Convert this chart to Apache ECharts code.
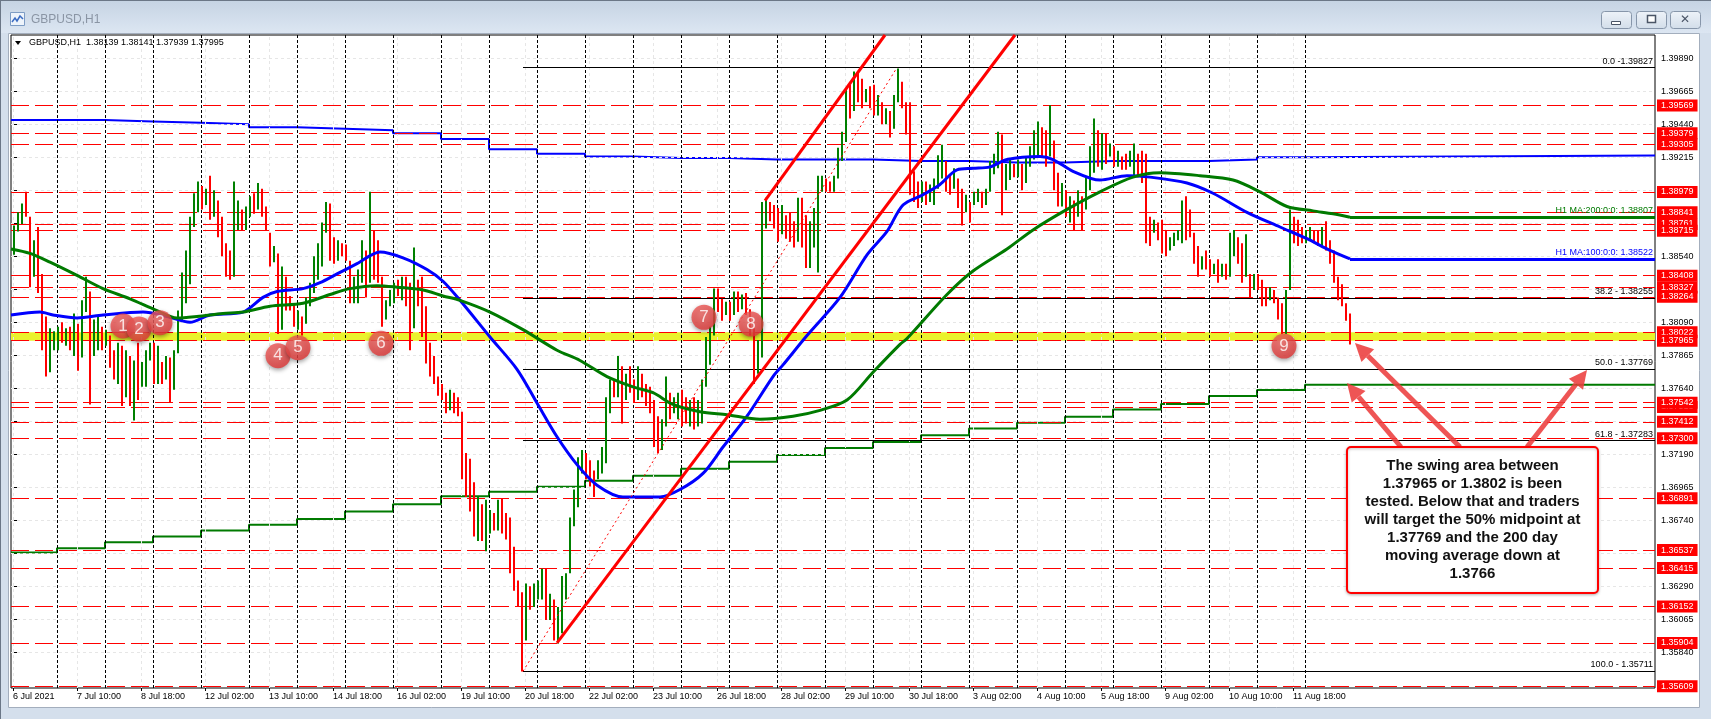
<!DOCTYPE html>
<html><head><meta charset="utf-8">
<script src="https://cdn.jsdelivr.net/npm/echarts@6/dist/echarts.min.js"></script>
<style>html,body{margin:0;padding:0;background:#d4dfec;}#c{width:1711px;height:719px;}</style>
</head><body><div id="c"></div>
<script>
// ---------------- DATA ----------------
const timeLabels = ['6 Jul 2021','7 Jul 10:00','8 Jul 18:00','12 Jul 02:00','13 Jul 10:00','14 Jul 18:00','16 Jul 02:00','19 Jul 10:00','20 Jul 18:00','22 Jul 02:00','23 Jul 10:00','26 Jul 18:00','28 Jul 02:00','29 Jul 10:00','30 Jul 18:00','3 Aug 02:00','4 Aug 10:00','5 Aug 18:00','9 Aug 02:00','10 Aug 10:00','11 Aug 18:00'];
const timeLabelBars = [0,32,64,96,128,160,192,224,256,288,320,352,384,416,448,480,512,544,576,608,640];
const dayStartBars = [0,22,46,70,94,118,142,166,190,214,238,262,286,310,334,358,382,406,430,454,478,502,526,550,574,598,622,646];
const priceTicks = [1.39890,1.39665,1.39440,1.39215,1.38990,1.38765,1.38540,1.38315,1.38090,1.37865,1.37640,1.37415,1.37190,1.36965,1.36740,1.36515,1.36290,1.36065,1.35840];

// 2-hour bars (bar k covers hours 2k, 2k+1), open of each bar = previous close
const firstOpen = 1.3862;
const closes = [
1.3872,1.3882,1.3888,1.3885,1.3845,1.3848,1.3835,1.3795,1.3790,1.3795,
1.3798,1.3800,1.3797,1.3801,1.3798,1.3805,1.3782,1.3820,1.3832,1.3790,
1.3800,1.3808,1.3798,1.3801,1.3785,1.3775,1.3780,1.3765,1.3775,1.3770,
1.3778,1.3768,1.3778,1.3786,1.3788,1.3775,1.3782,1.3772,1.3782,1.3770,
1.3788,1.3812,1.3838,1.3850,1.3876,1.3892,1.3895,1.3890,1.3895,1.3882,
1.3887,1.3870,1.3860,1.3848,1.3845,1.3880,1.3885,1.3878,1.3880,1.3893,
1.3890,1.3895,1.3885,1.3876,1.3852,1.3856,1.3820,1.3830,1.3825,1.3822,
1.3810,1.3812,1.3805,1.3822,1.3832,1.3850,1.3858,1.3872,1.3886,1.3860,
1.3856,1.3862,1.3858,1.3856,1.3830,1.3832,1.3840,1.3858,1.3840,1.3852,
1.3845,1.3842,1.3815,1.3820,1.3826,1.3832,1.3830,1.3834,1.3825,1.3805,
1.3830,1.3826,1.3808,1.3790,1.3776,1.3772,1.3762,1.3760,1.3752,1.3756,
1.3750,1.3748,1.3712,1.3700,1.3690,1.3670,1.3680,1.3668,1.3675,1.3678,
1.3672,1.3685,1.3670,1.3665,1.3645,1.3632,1.3620,1.3595,1.3625,1.3618,
1.3625,1.3628,1.3635,1.3612,1.3615,1.3600,1.3608,1.3630,1.3635,1.3670,
1.3690,1.3710,1.3712,1.3708,1.3702,1.3695,1.3712,1.3720,1.3752,1.3765,
1.3762,1.3780,1.3750,1.3768,1.3765,1.3760,1.3775,1.3762,1.3758,1.3750,
1.3730,1.3728,1.3740,1.3765,1.3748,1.3752,1.3755,1.3750,1.3748,1.3752,
1.3745,1.3750,1.3765,1.3795,1.3800,1.3828,1.3822,1.3815,1.3820,1.3812,
1.3826,1.3820,1.3824,1.3818,1.3805,1.3785,1.3792,1.3880,1.3885,1.3882,
1.3878,1.3870,1.3882,1.3872,1.3868,1.3865,1.3885,1.3880,1.3855,1.3862,
1.3876,1.3898,1.3905,1.3902,1.3900,1.3906,1.3925,1.3935,1.3962,1.3955,
1.3972,1.3968,1.3960,1.3964,1.3958,1.3954,1.3956,1.3948,1.3950,1.3940,
1.3960,1.3975,1.3958,1.3940,1.3905,1.3898,1.3895,1.3900,1.3895,1.3898,
1.3902,1.3918,1.3925,1.3905,1.3902,1.3910,1.3892,1.3882,1.3890,1.3880,
1.3894,1.3896,1.3890,1.3896,1.3915,1.3920,1.3932,1.3895,1.3910,1.3915,
1.3912,1.3914,1.3905,1.3918,1.3925,1.3932,1.3935,1.3930,1.3925,1.3930,
1.3905,1.3893,1.3895,1.3890,1.3891,1.3885,1.3888,1.3880,1.3905,1.3925,
1.3935,1.3925,1.3930,1.3922,1.3926,1.3918,1.3922,1.3918,1.3916,1.3922,
1.3925,1.3914,1.3908,1.3872,1.3865,1.3875,1.3872,1.3860,1.3858,1.3862,
1.3866,1.3868,1.3885,1.3880,1.3870,1.3855,1.3846,1.3850,1.3848,1.3845,
1.3846,1.3840,1.3845,1.3842,1.3862,1.3865,1.3855,1.3842,1.3848,1.3832,
1.3838,1.3835,1.3826,1.3824,1.3828,1.3825,1.3815,1.3805,1.3828,1.3875,
1.3870,1.3868,1.3866,1.3868,1.3872,1.3868,1.3865,1.3870,1.3862,1.3852,
1.3840,1.3828,1.3824,1.3814,1.37995];
const highs = [
1.3875,1.3884,1.3890,1.3898,1.3881,1.3865,1.3874,1.3842,1.3813,1.3805,
1.3803,1.3806,1.3809,1.3805,1.3806,1.3815,1.3808,1.3824,1.3840,1.3830,
1.3811,1.3813,1.3806,1.3804,1.3800,1.3790,1.3795,1.3793,1.3790,1.3786,
1.3783,1.3795,1.3782,1.3790,1.3795,1.3795,1.3793,1.3782,1.3786,1.3785,
1.3790,1.3817,1.3843,1.3858,1.3881,1.3897,1.3905,1.3902,1.3900,1.3909,
1.3899,1.3892,1.3881,1.3863,1.3858,1.3905,1.3892,1.3886,1.3888,1.3895,
1.3897,1.3904,1.3900,1.3888,1.3870,1.3861,1.3856,1.3847,1.3840,1.3827,
1.3822,1.3817,1.3813,1.3826,1.3836,1.3854,1.3863,1.3877,1.3891,1.3890,
1.3867,1.3865,1.3863,1.3862,1.3851,1.3840,1.3845,1.3865,1.3858,1.3898,
1.3872,1.3865,1.3840,1.3824,1.3831,1.3836,1.3838,1.3840,1.3840,1.3836,
1.3860,1.3838,1.3840,1.3820,1.3795,1.3786,1.3772,1.3767,1.3761,1.3763,
1.3761,1.3758,1.3748,1.3720,1.3716,1.3700,1.3690,1.3685,1.3688,1.3681,
1.3679,1.3688,1.3689,1.3679,1.3676,1.3656,1.3633,1.3625,1.3631,1.3629,
1.3631,1.3633,1.3641,1.3641,1.3624,1.3620,1.3615,1.3636,1.3638,1.3676,
1.3695,1.3717,1.3722,1.3720,1.3715,1.3708,1.3715,1.3724,1.3758,1.3770,
1.3770,1.3786,1.3779,1.3774,1.3779,1.3770,1.3779,1.3774,1.3767,1.3765,
1.3756,1.3745,1.3743,1.3772,1.3761,1.3758,1.3761,1.3763,1.3758,1.3756,
1.3758,1.3756,1.3770,1.3799,1.3806,1.3832,1.3832,1.3825,1.3823,1.3823,
1.3830,1.3830,1.3828,1.3829,1.3818,1.3805,1.3797,1.3891,1.3894,1.3891,
1.3889,1.3887,1.3889,1.3882,1.3884,1.3878,1.3894,1.3894,1.3882,1.3878,
1.3887,1.3909,1.3909,1.3907,1.3905,1.3909,1.3928,1.3939,1.3968,1.3971,
1.3980,1.3980,1.3975,1.3968,1.3970,1.3971,1.3964,1.3959,1.3955,1.3953,
1.3964,1.3982,1.3973,1.3959,1.3959,1.3912,1.3905,1.3905,1.3905,1.3903,
1.3907,1.3923,1.3930,1.3919,1.3910,1.3914,1.3907,1.3900,1.3896,1.3891,
1.3898,1.3900,1.3898,1.3900,1.3919,1.3924,1.3939,1.3937,1.3917,1.3920,
1.3917,1.3920,1.3917,1.3922,1.3929,1.3940,1.3946,1.3942,1.3940,1.3957,
1.3933,1.3911,1.3904,1.3899,1.3895,1.3892,1.3899,1.3895,1.3908,1.3929,
1.3948,1.3940,1.3938,1.3938,1.3931,1.3929,1.3926,1.3922,1.3924,1.3926,
1.3931,1.3924,1.3926,1.3924,1.3881,1.3879,1.3877,1.3879,1.3872,1.3867,
1.3870,1.3872,1.3892,1.3895,1.3886,1.3870,1.3861,1.3854,1.3858,1.3852,
1.3849,1.3852,1.3849,1.3849,1.3870,1.3872,1.3867,1.3863,1.3869,1.3842,
1.3842,1.3842,1.3838,1.3833,1.3833,1.3831,1.3826,1.3822,1.3831,1.3886,
1.3881,1.3879,1.3874,1.3872,1.3874,1.3872,1.3872,1.3874,1.3878,1.3865,
1.3858,1.3840,1.3835,1.3822,1.3815];
const lows = [
1.3855,1.3871,1.3876,1.3881,1.3833,1.3840,1.3829,1.3790,1.3772,1.3775,
1.3790,1.3790,1.3795,1.3793,1.3790,1.3786,1.3776,1.3785,1.3816,1.3753,
1.3786,1.3790,1.3790,1.3793,1.3778,1.3770,1.3767,1.3752,1.3758,1.3752,
1.3742,1.3756,1.3765,1.3765,1.3783,1.3767,1.3767,1.3767,1.3770,1.3754,
1.3763,1.3788,1.3810,1.3822,1.3835,1.3874,1.3884,1.3886,1.3889,1.3879,
1.3881,1.3867,1.3854,1.3840,1.3838,1.3840,1.3872,1.3872,1.3872,1.3881,
1.3883,1.3886,1.3881,1.3872,1.3847,1.3850,1.3801,1.3804,1.3817,1.3817,
1.3806,1.3804,1.3800,1.3808,1.3820,1.3829,1.3838,1.3847,1.3870,1.3851,
1.3849,1.3851,1.3854,1.3851,1.3822,1.3822,1.3822,1.3836,1.3826,1.3836,
1.3838,1.3836,1.3806,1.3811,1.3820,1.3822,1.3827,1.3824,1.3820,1.3790,
1.3805,1.3820,1.3799,1.3781,1.3772,1.3767,1.3759,1.3756,1.3747,1.3749,
1.3747,1.3745,1.3702,1.3690,1.3680,1.3663,1.3660,1.3660,1.3653,1.3665,
1.3667,1.3667,1.3665,1.3661,1.3638,1.3626,1.3615,1.3571,1.3592,1.3613,
1.3615,1.3620,1.3620,1.3606,1.3606,1.3592,1.3590,1.3597,1.3620,1.3638,
1.3670,1.3683,1.3706,1.3702,1.3697,1.3690,1.3702,1.3706,1.3713,1.3747,
1.3758,1.3758,1.3740,1.3756,1.3761,1.3754,1.3756,1.3758,1.3752,1.3747,
1.3724,1.3720,1.3722,1.3738,1.3743,1.3747,1.3743,1.3738,1.3740,1.3738,
1.3736,1.3738,1.3740,1.3765,1.3780,1.3800,1.3816,1.3810,1.3814,1.3810,
1.3814,1.3816,1.3818,1.3814,1.3800,1.3767,1.3774,1.3785,1.3873,1.3878,
1.3873,1.3864,1.3869,1.3866,1.3864,1.3860,1.3864,1.3860,1.3846,1.3846,
1.3860,1.3843,1.3898,1.3898,1.3898,1.3898,1.3907,1.3919,1.3932,1.3948,
1.3953,1.3959,1.3955,1.3959,1.3955,1.3950,1.3950,1.3944,1.3944,1.3935,
1.3941,1.3959,1.3955,1.3937,1.3896,1.3891,1.3887,1.3891,1.3889,1.3891,
1.3889,1.3900,1.3907,1.3898,1.3896,1.3900,1.3887,1.3875,1.3884,1.3877,
1.3889,1.3891,1.3887,1.3889,1.3898,1.3910,1.3914,1.3882,1.3899,1.3906,
1.3908,1.3908,1.3899,1.3904,1.3915,1.3920,1.3922,1.3922,1.3915,1.3922,
1.3899,1.3888,1.3888,1.3881,1.3877,1.3872,1.3881,1.3872,1.3886,1.3899,
1.3911,1.3915,1.3913,1.3917,1.3922,1.3915,1.3915,1.3913,1.3913,1.3915,
1.3908,1.3908,1.3904,1.3863,1.3861,1.3870,1.3865,1.3856,1.3854,1.3858,
1.3861,1.3865,1.3863,1.3865,1.3867,1.3849,1.3840,1.3845,1.3845,1.3840,
1.3842,1.3836,1.3840,1.3838,1.3840,1.3854,1.3849,1.3836,1.3840,1.3826,
1.3831,1.3831,1.3820,1.3820,1.3824,1.3822,1.3811,1.3801,1.3801,1.3831,
1.3863,1.3861,1.3863,1.3863,1.3865,1.3863,1.3861,1.3861,1.3858,1.3849,
1.3836,1.3824,1.3820,1.3810,1.37939];

// hourly moving averages, sampled [bar, price]
const h1ma100 = [[-1,1.3814],[13.5,1.3816],[20,1.3814],[32,1.3812],[45,1.3814],[65,1.3816],[77,1.3813],[88.5,1.3809],[98.5,1.3814],[115,1.3816],[125,1.3826],[132,1.3830],[145,1.3832],[153.5,1.3836],[162,1.3842],[172,1.3849],[183.5,1.3857],[195,1.3853],[207,1.3845],[215,1.3837],[223.5,1.3824],[238.5,1.3799],[252,1.3777],[262,1.3754],[272,1.3731],[282,1.3712],[292,1.3698],[305,1.3690],[323.5,1.3690],[333.5,1.3695],[345,1.3706],[355,1.3724],[367,1.3745],[380,1.3772],[385,1.3780],[397,1.3800],[413.5,1.3826],[427,1.3855],[437,1.3871],[445,1.3889],[455,1.3896],[463.5,1.3903],[472,1.3913],[480,1.3914],[488.5,1.3915],[497,1.3920],[513.5,1.3922],[520,1.3920],[530,1.3912],[543.5,1.3906],[557,1.3909],[568.5,1.3908],[587,1.3904],[600,1.3897],[617,1.3884],[633.5,1.3874],[647,1.3866],[658.5,1.3858],[668.5,1.38522]];
const h1ma200 = [[-1,1.3859],[8.5,1.3856],[18.5,1.3850],[32,1.3841],[45,1.3832],[58.5,1.3825],[72,1.3817],[82,1.3812],[92,1.3813],[105,1.3815],[115,1.3816],[128.5,1.3820],[145,1.3822],[158.5,1.3828],[168.5,1.3832],[182,1.3834],[192,1.3833],[205,1.3831],[215,1.3827],[223.5,1.3824],[238.5,1.3816],[255,1.3804],[272,1.3790],[283.5,1.3783],[297,1.3772],[310,1.3765],[320,1.3761],[330,1.3753],[343.5,1.3748],[357,1.3746],[373.5,1.3743],[390,1.3745],[403.5,1.3749],[417,1.3756],[430,1.3775],[443.5,1.3794],[447,1.3798],[467,1.3828],[480,1.3844],[497,1.3859],[510,1.3872],[527,1.3886],[543.5,1.3898],[560,1.3908],[573.5,1.3911],[593.5,1.3909],[610,1.3906],[623.5,1.3898],[637,1.3888],[650,1.3885],[660,1.3883],[668.5,1.38807]];
// daily moving averages, one value per trading day
const d1ma100 = [1.3947,1.3947,1.3946,1.3945,1.3944,1.3942,1.3941,1.3940,1.3938,1.3934,1.3927,1.3924,1.3922,1.3921,1.3921,1.3920,1.3920,1.3920,1.3919,1.3919,1.3918,1.3918,1.3919,1.3919,1.3919,1.3920,1.39215,1.39228];
const d1ma200 = [1.3652,1.3655,1.3659,1.3663,1.3667,1.3671,1.3675,1.3680,1.3685,1.36905,1.36935,1.36969,1.37010,1.37044,1.37092,1.37139,1.37185,1.37233,1.37274,1.37320,1.37367,1.37406,1.37447,1.37496,1.37533,1.37587,1.37628,1.37665];
const maLabels = ['D1 MA:100:0:0: 1.39228','H1 MA:200:0:0: 1.38807','H1 MA:100:0:0: 1.38522','D1 MA:200:0:0: 1.37665'];

// horizontal levels (drawn in this order)
const levels = [1.39569,1.39379,1.39305,1.38979,1.38841,1.38761,1.38715,1.38408,1.38327,1.38264,1.38022,1.37965,1.37513,1.37542,1.37412,1.37300,1.36891,1.36537,1.36415,1.36152,1.35904,1.35609];
const bandLow = 1.37965, bandHigh = 1.38022;

// fibonacci retracement
const fibStartBar = 255;
const fibPrices = [1.39827,1.38255,1.37769,1.37283,1.35711];
const fibLabels = ['0.0 -1.39827','38.2 - 1.38255','50.0 - 1.37769','61.8 - 1.37283','100.0 - 1.35711'];
const fibTrend = [[255,1.35711],[442,1.39827]];
// channel trend lines
const trendLow = [[272,1.35904],[501,1.40049]];
const trendHigh = [[376,1.38919],[436,1.40049]];

// numbered markers
const markerNums = [1,2,3,4,5,6,7,8,9];
const markerBars = [55,63,73.5,132.5,142.5,184,345.5,369,635.5];
const markerPrices = [1.38065,1.38044,1.38087,1.37862,1.37917,1.37947,1.38124,1.38078,1.37928];

const noteLines = ['The swing area between','1.37965 or 1.3802 is been','tested. Below that and traders','will target the 50% midpoint at','1.37769 and the 200 day','moving average down at','1.3766'];
const headerText = 'GBPUSD,H1  1.38139 1.38141 1.37939 1.37995';

// ---------------- CHART ----------------
const FONT = '"Liberation Sans", Arial, sans-serif';
const X_MIN = -1, X_MAX = 821, Y_MIN = 1.35597, Y_MAX = 1.40049;
const UP = '#008000', DOWN = '#ff0000', BLUE = '#0000ff', GREEN = '#007a00';

const barData = closes.map((c, k) => [2 * k + 0.5, k === 0 ? firstOpen : closes[k - 1], c, lows[k], highs[k]]);
const d1Line = vals => dayStartBars.map((h, i) => [i === 0 ? X_MIN : h, vals[i]]).concat([[X_MAX, vals[vals.length - 1]]]);
const lastDay = dayStartBars[dayStartBars.length - 1];
const lastMa100 = h1ma100[h1ma100.length - 1], lastMa200 = h1ma200[h1ma200.length - 1];
const hLine = v => [{coord: [X_MIN, v], value: v}, {coord: [X_MAX, v], value: v}];

const chart = echarts.init(document.getElementById('c'), null, {renderer: 'canvas', width: 1711, height: 719});

const option = {
  animation: false,
  backgroundColor: 'transparent',
  textStyle: {fontFamily: FONT},
  grid: {left: 11, right: 56, top: 35, bottom: 31, show: true, borderColor: '#000', borderWidth: 1, backgroundColor: 'transparent'},
  xAxis: {
    type: 'value', min: X_MIN, max: X_MAX,
    axisLine: {show: false}, splitLine: {show: false},
    axisTick: {show: true, customValues: timeLabelBars, length: 3, lineStyle: {color: '#000'}},
    axisLabel: {customValues: timeLabelBars, formatter: v => timeLabels[timeLabelBars.indexOf(v)] || '', align: 'left', color: '#000', fontSize: 9, fontFamily: FONT, margin: 4}
  },
  yAxis: {
    type: 'value', position: 'right', min: Y_MIN, max: Y_MAX, scale: true,
    axisLine: {show: false}, splitLine: {show: false},
    axisTick: {show: true, customValues: priceTicks, length: 4, lineStyle: {color: '#000'}},
    axisLabel: {customValues: priceTicks, formatter: v => v.toFixed(5), color: '#000', fontSize: 9, fontFamily: FONT, margin: 6}
  },
  series: [
    { // faint grid
      type: 'line', data: [], silent: true, z: 1,
      markLine: {symbol: ['none', 'none'], silent: true, precision: 5, label: {show: false},
        lineStyle: {color: '#e6e6e6', type: [3, 3], width: 1},
        data: priceTicks.map(hLine).concat(timeLabelBars.map(v => ({xAxis: v})))}
    },
    { // yellow band
      type: 'line', data: [], silent: true, z: 1,
      markArea: {silent: true, itemStyle: {color: '#eaf22c', opacity: 1}, data: [[{coord: [X_MIN, bandHigh]}, {coord: [X_MAX, bandLow]}]]}
    },
    { // day separators
      type: 'line', data: [], silent: true, z: 2,
      markLine: {symbol: ['none', 'none'], silent: true, label: {show: false},
        lineStyle: {color: '#000', type: [3, 2], width: 1},
        data: dayStartBars.slice(1).map(v => ({xAxis: v}))}
    },
    { // red levels
      type: 'line', data: [], silent: true, z: 3,
      markLine: {symbol: ['none', 'none'], silent: true, precision: 5,
        lineStyle: {color: '#ff0000', type: [18, 6], width: 1},
        label: {show: true, position: 'end', distance: 2, formatter: p => levels[p.dataIndex].toFixed(5), color: '#fff', backgroundColor: '#ff0000', padding: [1, 4, 1, 4], fontSize: 9, fontFamily: FONT, lineHeight: 10},
        data: levels.map(hLine)}
    },
    { // fibonacci levels
      type: 'line', data: [], silent: true, z: 3,
      markLine: {symbol: ['none', 'none'], silent: true, precision: 5,
        lineStyle: {color: '#000', type: 'solid', width: 1},
        label: {show: true, position: 'insideEndTop', distance: 2, formatter: p => fibLabels[p.dataIndex], color: '#000', fontSize: 9, fontFamily: FONT},
        data: fibPrices.map(v => [{coord: [fibStartBar, v]}, {coord: [X_MAX, v]}])}
    },
    { // D1 MA 100
      type: 'line', step: 'end', data: d1Line(d1ma100), symbol: 'none', z: 4, silent: true,
      lineStyle: {color: BLUE, width: 2},
      markLine: {symbol: ['none', 'none'], silent: true, precision: 5, lineStyle: {opacity: 0},
        label: {show: true, position: 'insideEndTop', distance: 2, fontSize: 9, fontFamily: FONT, color: BLUE, formatter: maLabels[0]},
        data: [[{coord: [lastDay, d1ma100[d1ma100.length - 1]]}, {coord: [X_MAX, d1ma100[d1ma100.length - 1]]}]]}
    },
    { // D1 MA 200
      type: 'line', step: 'end', data: d1Line(d1ma200), symbol: 'none', z: 4, silent: true,
      lineStyle: {color: GREEN, width: 2},
      markLine: {symbol: ['none', 'none'], silent: true, precision: 5, lineStyle: {opacity: 0},
        label: {show: true, position: 'insideEndTop', distance: 2, fontSize: 9, fontFamily: FONT, color: GREEN, formatter: maLabels[3]},
        data: [[{coord: [lastDay, d1ma200[d1ma200.length - 1]]}, {coord: [X_MAX, d1ma200[d1ma200.length - 1]]}]]}
    },
    { // price bars
      type: 'custom', data: barData, z: 5, clip: true, silent: true,
      encode: {x: 0, y: [3, 4]},
      renderItem: (params, api) => {
        const x = api.value(0), o = api.value(1), c = api.value(2), lo = api.value(3), hi = api.value(4);
        const a = api.coord([x, hi]), b = api.coord([x, lo]);
        return {type: 'rect', shape: {x: a[0] - 1, y: a[1], width: 2, height: Math.max(1, b[1] - a[1])}, style: {fill: c >= o ? UP : DOWN}};
      }
    },
    { // H1 MA 100
      type: 'line', data: h1ma100, smooth: 0.3, symbol: 'none', z: 6, silent: true,
      lineStyle: {color: BLUE, width: 3},
      markLine: {symbol: ['none', 'none'], silent: true, precision: 5,
        lineStyle: {color: BLUE, width: 3, type: 'solid'},
        label: {show: true, position: 'insideEndTop', distance: 2, fontSize: 9, fontFamily: FONT, color: BLUE, formatter: maLabels[2]},
        data: [[{coord: lastMa100}, {coord: [X_MAX, lastMa100[1]]}]]}
    },
    { // H1 MA 200
      type: 'line', data: h1ma200, smooth: 0.3, symbol: 'none', z: 6, silent: true,
      lineStyle: {color: GREEN, width: 3},
      markLine: {symbol: ['none', 'none'], silent: true, precision: 5,
        lineStyle: {color: GREEN, width: 3, type: 'solid'},
        label: {show: true, position: 'insideEndTop', distance: 2, fontSize: 9, fontFamily: FONT, color: GREEN, formatter: maLabels[1]},
        data: [[{coord: lastMa200}, {coord: [X_MAX, lastMa200[1]]}]]}
    },
    {type: 'line', data: fibTrend, symbol: 'none', z: 7, silent: true, lineStyle: {color: '#ff0000', width: 1, type: [2, 3]}},
    {type: 'line', data: trendLow, symbol: 'none', z: 7, silent: true, clip: true, lineStyle: {color: '#ff0000', width: 3}},
    {type: 'line', data: trendHigh, symbol: 'none', z: 7, silent: true, clip: true, lineStyle: {color: '#ff0000', width: 3}},
    { // numbered markers
      type: 'scatter', z: 8, silent: true, symbol: 'circle', symbolSize: 25,
      data: markerBars.map((h, i) => [h, markerPrices[i], markerNums[i]]),
      itemStyle: {color: {type: 'radial', x: 0.4, y: 0.35, r: 0.75, colorStops: [{offset: 0, color: '#f46b68'}, {offset: 1, color: '#de3030'}]},
        shadowBlur: 4, shadowColor: 'rgba(0,0,0,0.45)', shadowOffsetY: 2},
      label: {show: true, position: 'inside', formatter: p => p.value[2], color: '#fff', fontSize: 17, fontFamily: FONT}
    }
  ]
};
chart.setOption(option);

// ---------------- window chrome + annotations ----------------
const note = {left: 667, right: 792.5, top: 1.37240, bottom: 1.36245};
const arrows = [[[723.5, 1.37240], [671, 1.37949]], [[694, 1.37240], [667, 1.37676]], [[757, 1.37240], [787, 1.37765]]];
const px = p => chart.convertToPixel({gridIndex: 0}, p);
const AR = 'rgba(236,62,62,0.88)';
const g = [];
g.push({type: 'rect', z: -20, shape: {x: 0, y: 0, width: 1711, height: 719}, style: {fill: '#d4dfec'}});
g.push({type: 'rect', z: -19, shape: {x: 0, y: 0, width: 1711, height: 33},
  style: {fill: {type: 'linear', x: 0, y: 0, x2: 0, y2: 1, colorStops: [{offset: 0, color: '#c5d3e3'}, {offset: 1, color: '#dce6f2'}]}}});
g.push({type: 'rect', z: -18, shape: {x: 0, y: 0, width: 1711, height: 1}, style: {fill: '#6b7787'}});
g.push({type: 'rect', z: -18, shape: {x: 0, y: 0, width: 1, height: 719}, style: {fill: '#6b7787'}});
g.push({type: 'rect', z: -18, shape: {x: 8.5, y: 33.5, width: 1691, height: 674}, style: {fill: '#fff', stroke: '#a3aebd', lineWidth: 1}});
g.push({type: 'rect', z: -17, shape: {x: 10.5, y: 12.5, width: 14, height: 13}, style: {fill: '#eef4fb', stroke: '#7d9cc4', lineWidth: 1}});
g.push({type: 'polyline', z: -17, shape: {points: [[12, 22], [15, 18], [17, 21], [20, 16], [23, 19]]}, style: {stroke: '#3b6cc2', lineWidth: 1.5, fill: null}});
g.push({type: 'text', z: -17, x: 31, y: 20, style: {text: 'GBPUSD,H1', fill: '#8a95a4', font: '12px ' + FONT, verticalAlign: 'middle'}});
[[1601, 'min'], [1636, 'max'], [1670, 'close']].forEach(([bx, kind]) => {
  g.push({type: 'rect', z: -17, shape: {x: bx + 0.5, y: 11.5, width: 30, height: 17, r: 3},
    style: {fill: {type: 'linear', x: 0, y: 0, x2: 0, y2: 1, colorStops: [{offset: 0, color: '#eef3f9'}, {offset: 1, color: '#d2dde9'}]}, stroke: '#8796aa', lineWidth: 1}});
  if (kind === 'min') g.push({type: 'rect', z: -16, shape: {x: bx + 10.5, y: 21.5, width: 9, height: 3}, style: {fill: '#fff', stroke: '#4a5566'}});
  if (kind === 'max') g.push({type: 'rect', z: -16, shape: {x: bx + 11.5, y: 15.5, width: 8, height: 7}, style: {fill: '#fff', stroke: '#4a5566', lineWidth: 1.5}});
  if (kind === 'close') g.push({type: 'text', z: -16, x: bx + 15, y: 20, style: {text: '✕', fill: '#4a5566', font: 'bold 12px "DejaVu Sans"', align: 'center', verticalAlign: 'middle'}});
});
g.push({type: 'polygon', z: 50, shape: {points: [[15, 41], [21, 41], [18, 45]]}, style: {fill: '#000'}});
g.push({type: 'text', z: 50, x: 29, y: 43, style: {text: headerText, fill: '#000', font: '9px ' + FONT, verticalAlign: 'middle'}});
const b1 = px([note.left, note.top]), b2 = px([note.right, note.bottom]);
g.push({type: 'rect', z: 60, shape: {x: b1[0], y: b1[1], width: b2[0] - b1[0], height: b2[1] - b1[1], r: 4},
  style: {fill: '#fff', stroke: '#ff0000', lineWidth: 2, shadowBlur: 3, shadowColor: 'rgba(0,0,0,0.25)', shadowOffsetY: 1}});
g.push({type: 'text', z: 61, x: (b1[0] + b2[0]) / 2, y: b1[1] + 10,
  style: {text: noteLines.join('\n'), fill: '#111', font: 'bold 15px ' + FONT, align: 'center', verticalAlign: 'top', lineHeight: 18}});
arrows.forEach(([from, to]) => {
  const p0 = px(from), p1 = px(to);
  const dx = p1[0] - p0[0], dy = p1[1] - p0[1], L = Math.hypot(dx, dy), ux = dx / L, uy = dy / L;
  const hl = 18, hw = 9, bx = p1[0] - ux * hl, by = p1[1] - uy * hl;
  g.push({type: 'line', z: 59, shape: {x1: p0[0], y1: p0[1], x2: bx, y2: by}, style: {stroke: AR, lineWidth: 5}});
  g.push({type: 'polygon', z: 59, shape: {points: [[p1[0], p1[1]], [bx - uy * hw, by + ux * hw], [bx + uy * hw, by - ux * hw]]}, style: {fill: AR}});
});
chart.setOption({graphic: {elements: g}});
</script></body></html>
